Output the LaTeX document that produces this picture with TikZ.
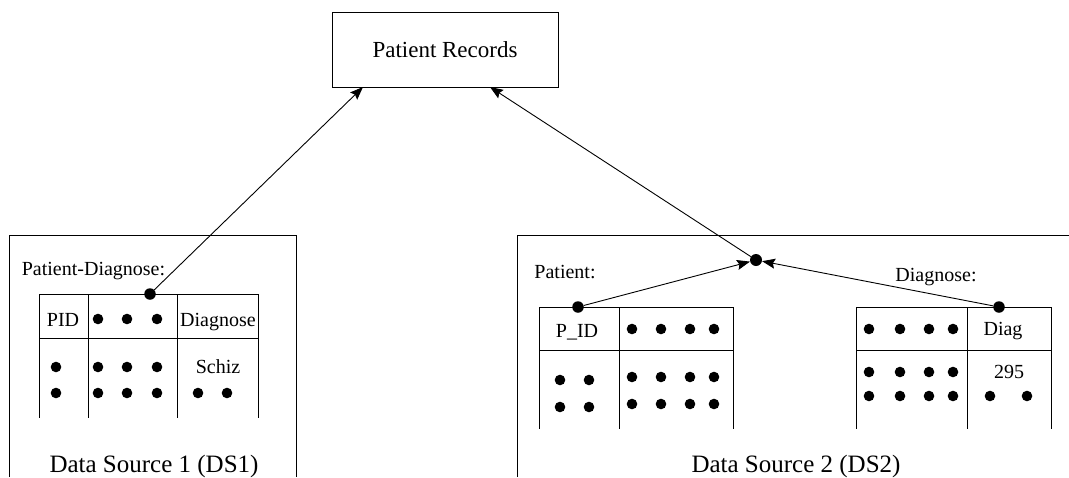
\documentclass[tikz,border=0pt]{standalone}
\usepackage{fontspec}
\setmainfont{Liberation Serif}
\usetikzlibrary{arrows.meta}

\begin{document}
\begin{tikzpicture}[x=1pt,y=-1pt]
	% Styles for connectors, dots and texts
	\tikzset{
		conn/.style={-{Stealth[length=13pt,width=10pt,inset=2pt]}, line width=0.9pt},
		dot/.style={circle, fill=black, inner sep=0pt, minimum size=11.5pt},
		grid/.style={line width=0.9pt},
		cell/.style={anchor=base, font=\fontsize{20}{24}\selectfont},
		title/.style={anchor=base, font=\fontsize{25}{30}\selectfont}
	}
	\useasboundingbox (0,0) rectangle (1069,477);
	
	% Patient records on top
	\node[draw, line width=0.9pt, minimum width=226pt, minimum height=75pt] (rec) at (445,49.5) {};
	\node[anchor=base, font=\fontsize{23}{28}\selectfont] (rectext) at (445,57) {Patient Records};
	\coordinate (recL) at (363,87);
	\coordinate (recR) at (490,87);
	
	% Data source frames (cut at the bottom)
	\draw[grid] (9,477) -- (9,235) -- (296,235) -- (296,477);
	\draw[grid] (517,477) -- (517,235) -- (1069,235);
	\node[title] (ds1) at (154,472) {Data Source 1 (DS1)};
	\node[title] (ds2) at (796,472) {Data Source 2 (DS2)};
	
	% Table in DS1
	\node[cell] (pdlabel) at (93.5,275) {Patient-Diagnose:};
	\draw[grid] (39,294) -- (258,294);
	\draw[grid] (39,338) -- (258,338);
	\foreach \x in {39,88,177,258}
		\draw[grid] (\x,294) -- (\x,418);
	\node[cell] (pid) at (63,326) {PID};
	\node[cell] (diagnose) at (218,326) {Diagnose};
	\node[cell] (schiz) at (218,373) {Schiz};
	\foreach \x/\y in {98/319,127/319,157/319,56/367,56/393,98/367,127/367,157/367,98/393,127/393,157/393,198/393,227/393}
		\fill (\x,\y) circle (5.3pt);
	\node[dot] (pd) at (150,294) {};
	
	% Tables in DS2
	\node[cell] (patlabel) at (565,278) {Patient:};
	\node[cell] (diaglabel) at (936,281) {Diagnose:};
	\draw[grid] (539,307) -- (733,307);
	\draw[grid] (539,350) -- (733,350);
	\foreach \x in {539,619,733}
		\draw[grid] (\x,307) -- (\x,429);
	\draw[grid] (856,307) -- (1051,307);
	\draw[grid] (856,350) -- (1051,350);
	\foreach \x in {856,967,1051}
		\draw[grid] (\x,307) -- (\x,429);
	\node[cell] (p_id) at (577,337) {P\_ID};
	\node[cell] (diag) at (1003,335) {Diag};
	\node[cell] (code) at (1009,378) {295};
	\foreach \x/\y in {632/329,661/329,690/329,714/329,560/380,589/380,560/407,589/407,632/377,661/377,690/377,714/377,632/404,661/404,690/404,714/404}
		\fill (\x,\y) circle (5.3pt);
	\foreach \x/\y in {869/329,900/329,929/329,953/329,869/372,900/372,929/372,953/372,869/396,900/396,929/396,953/396,990/396,1027/396}
		\fill (\x,\y) circle (5.3pt);
	\node[dot] (pat) at (578,307) {};
	\node[dot] (dg) at (999,307) {};
	\node[dot, minimum size=12pt] (join) at (756,260) {};
	
	% Connectors
	\draw[conn] (pd) -- (recL);
	\draw[conn] (join) -- (recR);
	\draw[conn] (pat) -- (join);
	\draw[conn] (dg) -- (join);
\end{tikzpicture}
\end{document}
